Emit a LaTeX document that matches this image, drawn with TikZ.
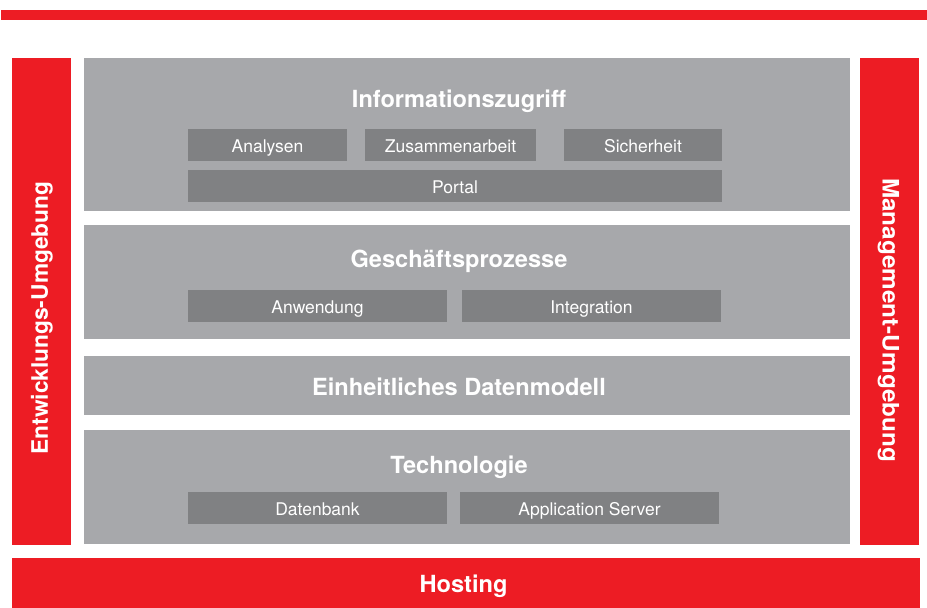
\documentclass[tikz,border=0pt]{standalone}
\usepackage{fontspec}
\setmainfont{TeX Gyre Heros}
\definecolor{hsred}{HTML}{ED1C24}
\definecolor{hsgray}{HTML}{A7A8AB}
\definecolor{hsdark}{HTML}{808183}
\tikzset{
  redbar/.style={fill=hsred},
  panel/.style={fill=hsgray},
  subbox/.style={fill=hsdark, text=white, inner sep=0pt, minimum height=32pt,
    text height=14pt, text depth=0pt, font=\fontsize{17.5}{17.5}\selectfont},
  title/.style={text=white, inner sep=0pt, anchor=base, font=\bfseries\fontsize{23.6}{23.6}\selectfont},
  sidetitle/.style={text=white, inner sep=0pt, font=\bfseries\fontsize{22.7}{22.7}\selectfont},
}
\begin{document}
\begin{tikzpicture}[x=1pt, y=-1pt]
    \useasboundingbox (0, 0) rectangle (927, 608);
    \fill[redbar] (1, 10) rectangle (927, 20);

    % side bars and hosting
    \fill[redbar] (12, 58) rectangle (71, 545);
    \fill[redbar] (860, 58) rectangle (919, 545);
    \fill[redbar] (12, 558) rectangle (920, 608);
    \node[sidetitle, rotate=90] (entw) at (42, 318) {Entwicklungs-Umgebung};
    \node[sidetitle, rotate=-90, xscale=1.07] (mgmt) at (888.5, 320) {Management-Umgebung};
    \node[title] (hosting) at (463.5, 592.3) {Hosting};

    % layers
    \fill[panel] (84, 58) rectangle (850, 211);
    \fill[panel] (84, 225) rectangle (850, 339);
    \fill[panel] (84, 356) rectangle (850, 415);
    \fill[panel] (84, 430) rectangle (850, 544);

    \node[title] (info) at (459, 107.3) {Informationszugriff};
    \node[subbox, minimum width=159pt] (analysen) at (267.5, 145) {Analysen};
    \node[subbox, minimum width=171pt] (zusammen) at (450.5, 145) {Zusammenarbeit};
    \node[subbox, minimum width=158pt] (sicher) at (643, 145) {Sicherheit};
    \node[subbox, minimum width=534pt] (portal) at (455, 186) {Portal};

    \node[title] (geschaeft) at (459, 267) {Geschäftsprozesse};
    \node[subbox, minimum width=259pt] (anwendung) at (317.5, 306) {Anwendung};
    \node[subbox, minimum width=259pt] (integration) at (591.5, 306) {Integration};

    \node[title] (daten) at (459, 395) {Einheitliches Datenmodell};

    \node[title] (technik) at (459, 473.5) {Technologie};
    \node[subbox, minimum width=259pt] (datenbank) at (317.5, 508) {Datenbank};
    \node[subbox, minimum width=259pt] (appserver) at (589.5, 508) {Application Server};
  \end{tikzpicture}
\end{document}
